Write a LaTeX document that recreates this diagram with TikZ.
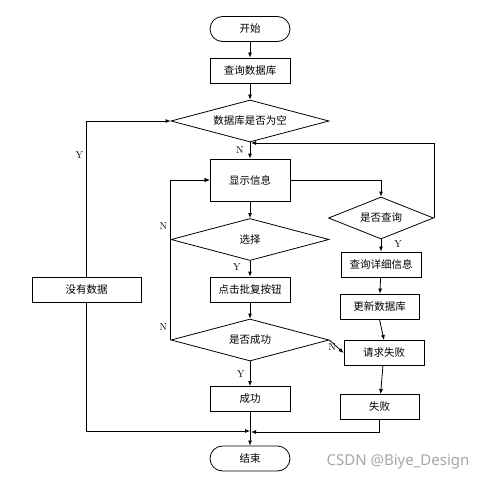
\documentclass[tikz,border=0pt]{standalone}
\usepackage{fontspec}
\usepackage{tikz}
\usetikzlibrary{shapes.geometric,arrows.meta}
\newfontfamily\cjk{Noto Sans CJK SC}
\newfontfamily\wmfont{Noto Sans}

\tikzset{
  flowtext/.style={font=\cjk\fontsize{10.5}{12}\selectfont},
  stepbox/.style={flowtext,draw=black,line width=0.8pt,rectangle,minimum width=80pt,minimum height=25pt,inner sep=0pt},
  termbox/.style={stepbox,rounded corners=12.5pt},
  askbox/.style={flowtext,draw=black,line width=0.8pt,diamond,aspect=3.76,minimum width=158pt,minimum height=42pt,inner sep=0pt},
  flow/.style={draw=black,line width=0.8pt,-{Latex[length=5pt,width=4pt]}},
  yn/.style={font=\fontsize{10}{12}\selectfont,inner sep=1pt}
}

\begin{document}
\begin{tikzpicture}[x=1pt,y=1pt]
\useasboundingbox (0,0) rectangle (489,-484);
% main column:
\node[termbox] (start) at (250,-29) {开始};
\node[stepbox] (query) at (250,-70.5) {查询数据库};
\node[askbox] (empty) at (250,-121) {数据库是否为空};
\node[stepbox,minimum height=42pt] (show) at (250,-180) {显示信息};
\node[askbox] (choose) at (250,-239.5) {选择};
\node[stepbox] (click) at (250,-289.5) {点击批复按钮};
\node[askbox] (ok) at (250,-340) {是否成功};
\node[stepbox] (done) at (250,-399) {成功};
\node[termbox] (end) at (250,-458.5) {结束};
% left column:
\node[stepbox,minimum width=109pt] (nodata) at (86.5,-289.5) {没有数据};
% right column:
\node[askbox,aspect=2.5,minimum width=105pt] (ask) at (381,-218) {是否查询};
\node[stepbox] (detail) at (381,-264.5) {查询详细信息};
\node[stepbox,minimum width=79pt] (update) at (379.5,-306.5) {更新数据库};
\node[stepbox] (fail) at (384,-353) {请求失败};
\node[stepbox,minimum width=79pt] (lose) at (379.5,-407) {失败};
\coordinate (mleft) at (250,-431);
\coordinate (mright) at (251,-432);
\coordinate (back) at (251,-143);
% connectors:
\draw[flow] (start) -- (query);
\draw[flow] (query) -- (empty);
\draw[flow] (empty) -- node[yn,left=5pt,pos=0.45] {N} (show);
\draw[flow] (nodata.north) |- node[yn,left=2pt,pos=0.39] {Y} (empty.west);
\draw[flow] (nodata.south) |- (mleft);
\draw[flow] (show.east) -| (ask.north);
\draw[flow] (ask.east) |- (back);
\draw[flow] (show) -- (choose);
\draw[flow] (choose) -- node[yn,left=8pt,pos=0.4] {Y} (click);
\draw[flow] (click) -- (ok);
\draw[flow] (choose.west) |- node[yn,left=2pt,pos=0.11] {N} (show.west);
\draw[flow] (ok.west) |- node[yn,left=2pt,pos=0.04] {N} (show.west);
\draw[flow] (ok.east) -- node[yn,below,pos=0.2] {N} (fail.west);
\draw[flow] (ok) -- node[yn,left=4pt,pos=0.5] {Y} (done);
\draw[flow] (ask) -- node[yn,right=12pt,pos=0.4] {Y} (detail);
\draw[flow] (detail) -- (update);
\draw[flow] (update.south) -- (fail.north);
\draw[flow] (fail) -- (lose);
\draw[flow] (lose.south) |- (mright);
\draw[flow] (done) -- (end);
% watermark:
\node[font=\wmfont\fontsize{15}{17}\selectfont,text=black!35] (wm) at (398,-462) {CSDN @Biye\_Design};
\end{tikzpicture}
\end{document}
